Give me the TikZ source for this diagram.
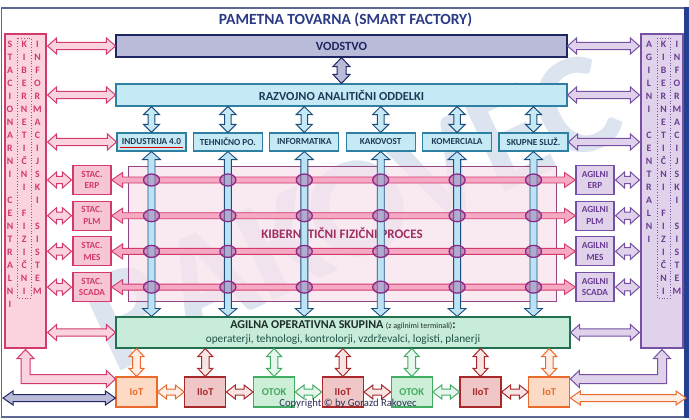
\documentclass[tikz,border=0pt]{standalone}
\usepackage{fontspec}
\setmainfont{Carlito}
\usetikzlibrary{calc}
\definecolor{frameC}{HTML}{5D6890}
\definecolor{bandC}{HTML}{23408E}
\definecolor{titleC}{HTML}{2B3B86}
\definecolor{wmC}{HTML}{DCE5EF}
\definecolor{navyC}{HTML}{1E2762}
\definecolor{vodF}{HTML}{B9BBD9}
\definecolor{razF}{HTML}{C6EAF5}
\definecolor{razD}{HTML}{2F7FA2}
\definecolor{depT}{HTML}{1D3A56}
\definecolor{crimC}{HTML}{D23A6C}
\definecolor{pinkF}{HTML}{FAD3DF}
\definecolor{stacF}{HTML}{F7C6D4}
\definecolor{purC}{HTML}{7650A3}
\definecolor{purT}{HTML}{6A3C93}
\definecolor{lavF}{HTML}{E0D2EB}
\definecolor{procF}{HTML}{F7E3ED}
\definecolor{procD}{HTML}{93467F}
\definecolor{procT}{HTML}{A12E62}
\definecolor{hArrF}{HTML}{F5A9C4}
\definecolor{vArrF}{HTML}{BCE3F4}
\definecolor{vArrD}{HTML}{1C4C7C}
\definecolor{ringD}{HTML}{8A2A88}
\definecolor{ringF}{HTML}{A775AE}
\definecolor{agF}{HTML}{C8ECDA}
\definecolor{agD}{HTML}{23704F}
\definecolor{agT}{HTML}{1D2E28}
\definecolor{agT2}{HTML}{1F5247}
\definecolor{iotD}{HTML}{EA6A2E}
\definecolor{iotF}{HTML}{FDDAC3}
\definecolor{iiotD}{HTML}{A8282B}
\definecolor{iiotF}{HTML}{EFC7C6}
\definecolor{otokD}{HTML}{43AC63}
\definecolor{otokF}{HTML}{CDEED7}
\definecolor{copyC}{HTML}{2A3156}
\newcommand\fs[1]{\fontsize{#1}{#1}\selectfont}
% double-headed block arrow: [style]{from}{to}{shaft half}{head half}{head length}
\newcommand\barrow[6][]{%
  \path (#2) coordinate (bA) (#3) coordinate (bB);
  \path ($(bA)!#6!(bB)$) coordinate (bP) ($(bB)!#6!(bA)$) coordinate (bQ);
  \draw[#1] (bA) -- ($(bP)!#5!90:(bB)$) -- ($(bP)!#4!90:(bB)$)
    -- ($(bQ)!#4!-90:(bA)$) -- ($(bQ)!#5!-90:(bA)$) -- (bB)
    -- ($(bQ)!#5!90:(bA)$) -- ($(bQ)!#4!90:(bA)$)
    -- ($(bP)!#4!-90:(bB)$) -- ($(bP)!#5!-90:(bB)$) -- cycle;}
\newcommand\bigA[3]{\barrow[#1]{#2}{#3}{3.7pt}{8pt}{9pt}}
\newcommand\stackA{S\\T\\A\\C\\I\\O\\N\\A\\R\\N\\I\\~\\C\\E\\N\\T\\R\\A\\L\\N\\I}
\newcommand\stackB{K\\I\\B\\E\\R\\N\\E\\T\\I\\Č\\N\\I\\~\\F\\I\\Z\\I\\Č\\N\\I}
\newcommand\stackC{I\\N\\F\\O\\R\\M\\A\\C\\I\\J\\S\\K\\I\\~\\S\\I\\S\\T\\E\\M}
\newcommand\stackD{A\\G\\I\\L\\N\\I\\~\\C\\E\\N\\T\\R\\A\\L\\N\\I}
\tikzset{
  lbl/.style={inner sep=0pt, align=center},
  bx/.style={draw, line width=1.1pt, inner sep=0pt, align=center},
  vodS/.style={bx, draw=navyC, fill=vodF, minimum width=451pt, minimum height=22pt, text=navyC, font=\bfseries\fs{12.5}},
  razS/.style={bx, draw=razD, fill=razF, minimum width=451pt, minimum height=22pt, text=depT, font=\bfseries\fs{12.3}},
  depS/.style={bx, draw=razD, fill=razF, minimum width=69pt, minimum height=18pt, text=depT, font=\bfseries\fs{9.2}},
  colS/.style={bx, minimum width=41pt, minimum height=314pt},
  stacS/.style={bx, draw=crimC, fill=stacF, text=crimC, minimum width=38pt, minimum height=29pt, font=\bfseries\fontsize{9.3}{11.5}\selectfont},
  agilS/.style={bx, draw=purC, fill=lavF, text=purT, minimum width=38pt, minimum height=29pt, font=\bfseries\fontsize{9.3}{11.5}\selectfont},
  procS/.style={draw=procD, line width=1pt, fill=procF, fill opacity=0.75, text opacity=1, inner sep=0pt, minimum width=428pt, minimum height=135pt, text=procT, font=\bfseries\fs{13}},
  agS/.style={bx, draw=agD, fill=agF, minimum width=454pt, minimum height=31pt, text=agT, font=\fontsize{11}{14.5}\selectfont},
  botS/.style={bx, minimum width=41pt, minimum height=30pt, font=\bfseries\fs{10.5}},
  iotB/.style={draw=iotD, fill=iotF, text=iotD},
  iiotB/.style={draw=iiotD, fill=iiotF, text=iiotD},
  otokB/.style={draw=otokD, fill=otokF, text=otokD},
  letS/.style={inner sep=0pt, align=center, anchor=north, font=\bfseries\fontsize{9.8}{13}\selectfont},
  aPink/.style={draw=crimC, fill=pinkF, line width=1pt},
  aLav/.style={draw=purC, fill=lavF, line width=1pt},
  aVod/.style={draw=navyC, fill=vodF, line width=1pt},
  aRaz/.style={draw=vArrD, fill=razF, line width=1pt},
  aV/.style={draw=vArrD, fill=vArrF, line width=0.9pt},
  aH/.style={draw=crimC, fill=hArrF, line width=0.9pt},
  ring/.style={draw=ringD, line width=1.3pt, fill=ringF, fill opacity=0.5},
  aiot/.style={draw=iotD, fill=iotF!45, line width=1pt},
  aiiot/.style={draw=iiotD, fill=iiotF!45, line width=1pt},
  aotok/.style={draw=otokD, fill=otokF!45, line width=1pt},
}
\begin{document}
\begin{tikzpicture}[x=1pt, y=-1pt]
\useasboundingbox (0,0) rectangle (689,420);
\fill[white] (0,0) rectangle (689,420);
\draw[frameC, line width=1.2pt, fill=white] (1.5,8) rectangle (685,417);
\fill[bandC] (684,7) rectangle (689,418);
% watermark
\node[rotate=25, font=\bfseries\fs{145}, text=wmC, inner sep=0pt] (wm) at (352,212) {RAKOVEC};
% title
\node[font=\bfseries\fs{15.5}, text=titleC] (title) at (345.5,19.5) {PAMETNA TOVARNA (SMART FACTORY)};
% side columns
\node[colS, draw=crimC, fill=pinkF] (lc) at (25.5,191) {};
\node[colS, draw=purC, fill=lavF, minimum width=42pt] (rc) at (662,191) {};
\draw[crimC, dotted, line width=0.7pt] (17.5,38) rectangle (31,298);
\draw[purC, dotted, line width=0.7pt] (657,38) rectangle (670,298);
\node[letS, text=crimC] at (10,41) {\stackA};
\node[letS, text=crimC] at (24.2,41) {\stackB};
\node[letS, text=crimC] at (37.5,41) {\stackC};
\node[letS, text=purT] at (649,41) {\stackD};
\node[letS, text=purT] at (663.5,41) {\stackB};
\node[letS, text=purT] at (677,41) {\stackC};
% main boxes
\node[vodS] (vod) at (341.5,46) {VODSTVO};
\node[razS] (raz) at (341.5,95) {RAZVOJNO ANALITIČNI ODDELKI};
\foreach \i/\t in {0/INDUSTRIJA 4.0,1/TEHNIČNO PO.,2/INFORMATIKA,3/KAKOVOST,4/KOMERCIALA,5/SKUPNE SLUŽ.}
  \node[depS] (d\i) at (151.5+76.4*\i,142) {\t};
\draw[red!85!black, line width=0.8pt] ($(d0.south west)+(4,-4)$) -- ($(d0.south east)+(-4,-4)$);
\node[procS] (proc) at (342,233.5) {KIBERNETIČNI FIZIČNI PROCES};
\foreach \i/\t in {0/ERP,1/PLM,2/MES,3/SCADA}{
  \node[stacS] (s\i) at (92,180+35.7*\i) {STAC.\\\t};
  \node[agilS] (a\i) at (595,180+35.7*\i) {AGILNI\\\t};
}
\node[agS] (ag) at (343,332.5) {{\bfseries\fs{12}AGILNA OPERATIVNA SKUPINA} {\fs{8}(z agilnimi terminali)}{\bfseries\fs{12}:}\\{\color{agT2}\fs{11.3}operaterji, tehnologi, kontrolorji, vzdrževalci, logisti, planerji}};
\foreach \i/\t/\s in {0/IoT/iotB,1/IIoT/iiotB,2/OTOK/otokB,3/IIoT/iiotB,4/OTOK/otokB,5/IIoT/iiotB,6/IoT/iotB}
  \node[botS, \s] (b\i) at (136.5+68.8*\i,392) {\t};
% process arrows
\foreach \i in {0,...,3}
  \barrow[aH]{s\i.east}{a\i.west}{3pt}{7.5pt}{11pt};
\foreach \j in {0,...,5}
  \barrow[aV]{d\j.south}{ag.north -| d\j.south}{3.5pt}{9pt}{8pt};
\foreach \i in {0,...,3}
  \foreach \j in {0,...,5}
    \draw[ring] (d\j.south |- s\i.east) ellipse [x radius=8pt, y radius=6pt];
% top arrows
\barrow[aVod]{vod.south}{raz.north}{4.5pt}{8.5pt}{9pt}
\foreach \j in {0,...,5}
  \barrow[aRaz]{raz.south -| d\j.north}{d\j.north}{3.3pt}{8pt}{8pt};
% left column arrows
\bigA{aPink}{$(lc.east |- vod.west)+(1,0)$}{vod.west}
\bigA{aPink}{$(lc.east |- raz.west)+(1,0)$}{raz.west}
\bigA{aPink}{$(lc.east |- d0.west)+(1,0)$}{d0.west}
\bigA{aPink}{$(lc.east |- ag.west)+(1,0)$}{ag.west}
\foreach \i in {0,...,3}
  \bigA{aPink}{$(lc.east |- s\i.west)+(1,0)$}{$(s\i.west)+(-1,0)$};
% right column arrows
\bigA{aLav}{vod.east}{$(rc.west |- vod.east)+(-1,0)$}
\bigA{aLav}{raz.east}{$(rc.west |- raz.east)+(-1,0)$}
\bigA{aLav}{d5.east}{$(rc.west |- d5.east)+(-1,0)$}
\bigA{aLav}{ag.east}{$(rc.west |- ag.east)+(-1,0)$}
\foreach \i in {0,...,3}
  \bigA{aLav}{$(a\i.east)+(1,0)$}{$(rc.west |- a\i.east)+(-1,0)$};
% bottom arrows
\foreach \i/\s in {0/aiot,1/aiiot,2/aotok,3/aiiot,4/aotok,5/aiiot,6/aiot}
  \barrow[\s]{b\i.north}{ag.south -| b\i.north}{3.8pt}{7.5pt}{8pt};
\foreach \i/\k/\s in {0/1/aiot,1/2/aiiot,2/3/aotok,3/4/aiiot,4/5/aotok,5/6/aiiot}
  \barrow[\s]{b\i.east}{b\k.west}{3pt}{7pt}{9pt};
\coordinate (blL) at (3,398);
\coordinate (brR) at (686,398);
\barrow[aVod]{blL}{b0.west |- blL}{3.5pt}{7pt}{10pt}
\barrow[aiot]{b6.east |- brR}{brR}{3.5pt}{7pt}{10pt}
% bent arrows
\coordinate (Lt) at ($(lc.south)+(0,1)$);
\coordinate (Le) at ($(b0.west)+(0,-13)$);
\draw[aPink] (Lt) -- ++(8.5,9) -- ++(-4,0) |- ($(Le)+(-9,-4.5)$) -- ++(0,-4) -- (Le)
  -- ++(-9,8.5) -- ++(0,-4) -| ($(Lt)+(-4.5,9)$) -- ++(-4,0) -- cycle;
\coordinate (Rt) at ($(rc.south)+(0,1)$);
\coordinate (Re) at ($(b6.east)+(0,-13)$);
\draw[aLav] (Rt) -- ++(-8.5,9) -- ++(4,0) |- ($(Re)+(9,-4.5)$) -- ++(0,-4) -- (Re)
  -- ++(9,8.5) -- ++(0,-4) -| ($(Rt)+(4.5,9)$) -- ++(4,0) -- cycle;
% copyright
\node[font=\fs{10.7}, text=copyC, inner sep=0pt] (cp) at (348,404) {Copyright © by Gorazd Rakovec};
\end{tikzpicture}
\end{document}
